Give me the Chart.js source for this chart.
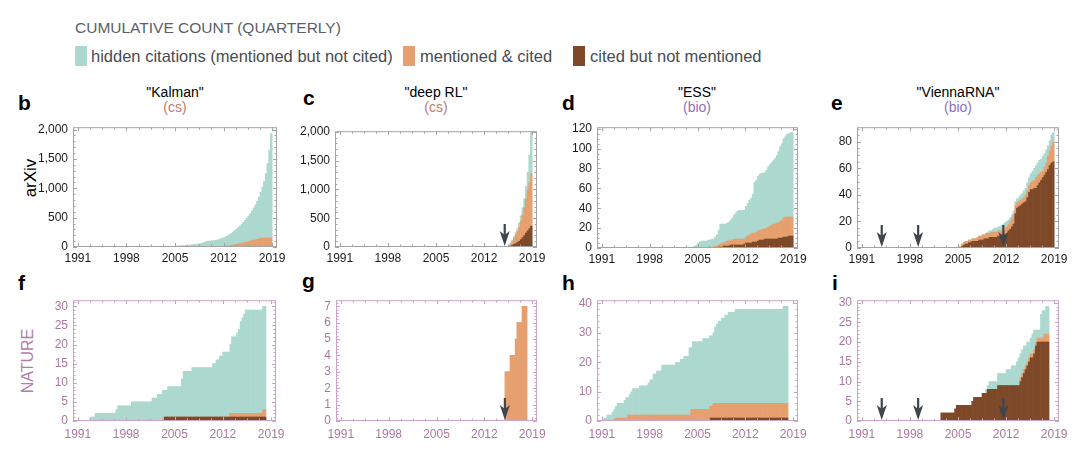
<!DOCTYPE html>
<html>
<head>
<meta charset="utf-8">
<script src="https://cdn.jsdelivr.net/npm/chart.js@4.4.1/dist/chart.umd.min.js"></script>
<style>
  body { margin: 0; background: #fff; width: 1080px; height: 461px; position: relative; overflow: hidden;
         font-family: "Liberation Sans", Arial, Helvetica, sans-serif; }
  .t { position: absolute; white-space: nowrap; line-height: 1; }
  .c { transform: translateX(-50%); }
  .r { transform: translate(-50%, -50%) rotate(-90deg); }
  .sw { position: absolute; width: 12px; height: 20px; }
  canvas { position: absolute; }
</style>
</head>
<body>

<div class="t" style="left:75px;top:20px;font-size:15.5px;color:#5b6066">CUMULATIVE COUNT (QUARTERLY)</div>
<div class="sw" style="left:75px;top:46px;background:#acd8cf"></div>
<div class="t" style="left:91px;top:48px;font-size:16.5px;color:#474c52">hidden citations (mentioned but not cited)</div>
<div class="sw" style="left:403px;top:46px;background:#e6a06f"></div>
<div class="t" style="left:420px;top:48px;font-size:16.5px;color:#474c52">mentioned &amp; cited</div>
<div class="sw" style="left:573px;top:46px;background:#7e4928"></div>
<div class="t" style="left:590px;top:48px;font-size:16.5px;color:#474c52">cited but not mentioned</div>

<div class="t" style="left:18px;top:92px;font-size:21px;font-weight:bold">b</div>
<div class="t" style="left:303px;top:87px;font-size:21px;font-weight:bold">c</div>
<div class="t" style="left:562px;top:92px;font-size:21px;font-weight:bold">d</div>
<div class="t" style="left:831px;top:92px;font-size:21px;font-weight:bold">e</div>
<div class="t" style="left:18px;top:272px;font-size:21px;font-weight:bold">f</div>
<div class="t" style="left:302px;top:270px;font-size:21px;font-weight:bold">g</div>
<div class="t" style="left:562px;top:272px;font-size:21px;font-weight:bold">h</div>
<div class="t" style="left:832px;top:272px;font-size:21px;font-weight:bold">i</div>

<div class="t c" style="left:175px;top:85px;font-size:14px">"Kalman"</div>
<div class="t c" style="left:175px;top:100px;font-size:14px;color:#c07a6e">(cs)</div>
<div class="t c" style="left:436px;top:85px;font-size:14px">"deep RL"</div>
<div class="t c" style="left:436px;top:100px;font-size:14px;color:#c07a6e">(cs)</div>
<div class="t c" style="left:697px;top:85px;font-size:14px">"ESS"</div>
<div class="t c" style="left:697px;top:100px;font-size:14px;color:#8e72bd">(bio)</div>
<div class="t c" style="left:958px;top:85px;font-size:14px">"ViennaRNA"</div>
<div class="t c" style="left:958px;top:100px;font-size:14px;color:#8e72bd">(bio)</div>

<div class="t r" style="left:30px;top:178px;font-size:17px">arXiv</div>
<div class="t r" style="left:28px;top:361px;font-size:16px;color:#b27dad">NATURE</div>

<canvas id="b"></canvas><canvas id="c"></canvas><canvas id="d"></canvas><canvas id="e"></canvas>
<canvas id="f"></canvas><canvas id="g"></canvas><canvas id="h"></canvas><canvas id="i"></canvas>

<script>
// cumulative counts per quarter; *From = [total, cited, citedOnly] first quarter (year + q/4)
// total = all papers, cited = mentioned & cited + cited only, citedOnly = cited but not mentioned
const yearTicks = [1991, 1998, 2005, 2012, 2019];

const kalmanArxivFrom = [2004, 2011, null];
const kalmanArxivTotal = [2, 4, 6, 10, 14, 17, 19, 21, 23, 25, 27, 29, 32, 35, 38, 42, 46, 50, 55, 62,
  70, 90, 97, 100, 102, 104, 108, 113, 120, 128, 138, 150, 162, 178, 195, 212, 232, 255, 280, 305,
  330, 358, 388, 420, 455, 492, 530, 570, 615, 665, 720, 780, 850, 930, 1020, 1120, 1250, 1420, 1650, 1930];
const kalmanArxivCited = [2, 4, 6, 8, 12, 16, 20, 25, 30, 35, 40, 46, 52, 58, 64, 70, 77, 84, 92, 100,
  108, 116, 124, 132, 140, 146, 150, 152, 152, 153, 153, 154];
const kalmanArxivCitedOnly = [];

const deepRlArxivFrom = [2015.25, 2015.25, 2015.25];
const deepRlArxivTotal = [5, 30, 70, 120, 180, 250, 320, 420, 540, 680, 840, 1050, 1300, 1600, 1990];
const deepRlArxivCited = [3, 22, 55, 100, 150, 210, 270, 350, 450, 560, 680, 830, 980, 1120, 1270];
const deepRlArxivCitedOnly = [1, 8, 18, 30, 45, 60, 75, 100, 130, 165, 200, 240, 280, 320, 365];

const essArxivFrom = [2004.25, 2007.25, 2008];
const essArxivTotal = [1, 2, 3, 5, 6, 7, 7, 7, 7, 8, 8, 9, 9, 11, 13, 18, 24, 24, 24, 24, 25, 26, 28,
  30, 33, 35, 37, 38, 38, 38, 38, 42, 45, 48, 50, 54, 66, 68, 72, 74, 75, 75, 76, 78, 82, 84, 86,
  88, 90, 93, 97, 102, 105, 110, 112, 114, 115, 116, 116];
const essArxivCited = [1, 2, 2, 3, 4, 5, 5, 6, 7, 7, 8, 8, 9, 9, 9, 9, 9, 9, 9, 11, 12, 13, 14,
  15, 15, 16, 17, 18, 18, 19, 19, 20, 21, 22, 23, 24, 24, 25, 25, 27, 28, 30, 31, 31, 31, 31, 31];
const essArxivCitedOnly = [1, 1, 1, 2, 2, 2, 2, 3, 3, 3, 3, 3, 3, 3, 3, 4, 5, 5, 5, 5, 6, 6, 6, 7,
  8, 8, 8, 9, 9, 9, 9, 9, 9, 9, 9, 10, 10, 10, 11, 11, 11, 12, 12, 12];

const viennaArxivFrom = [2005.25, 2005.25, 2005.25];
const viennaArxivTotal = [1, 3, 4, 5, 5, 6, 6, 7, 7, 7, 8, 9, 9, 10, 10, 11, 12, 13, 13, 14, 15, 15, 16,
  16, 17, 18, 19, 20, 21, 23, 25, 28, 35, 37, 38, 40, 41, 43, 45, 49, 53, 56, 58, 60, 62, 64, 66,
  67, 69, 71, 74, 77, 81, 85, 87];
const viennaArxivCited = [1, 3, 4, 5, 5, 6, 6, 7, 7, 7, 8, 9, 9, 10, 10, 11, 11, 11, 12, 12, 12, 12, 13,
  13, 13, 14, 15, 16, 18, 20, 22, 25, 32, 34, 35, 36, 37, 38, 40, 43, 47, 49, 50, 51, 53, 55, 56,
  57, 58, 61, 64, 69, 73, 77, 80];
const viennaArxivCitedOnly = [0, 1, 2, 3, 3, 4, 4, 5, 5, 5, 5, 6, 6, 6, 7, 7, 7, 8, 8, 8, 8, 8, 9,
  9, 9, 10, 10, 11, 13, 14, 16, 18, 26, 30, 31, 32, 33, 34, 35, 38, 42, 44, 44, 45, 45, 47, 49,
  51, 53, 55, 57, 59, 62, 64, 65];

const kalmanNatureFrom = [1992.75, 2003.5, 2003.5];
const kalmanNatureTotal = [1, 1, 1, 2, 2, 2, 2, 2, 2, 2, 2, 2, 2, 2, 2, 3, 4, 4, 4, 4, 4, 4, 4, 4, 5,
  5, 5, 5, 5, 5, 5, 5, 5, 5, 5, 5, 6, 6, 6, 7, 7, 7, 8, 8, 8, 9, 9, 9, 9, 9, 9, 9, 9,
  11, 13, 13, 13, 13, 13, 14, 14, 14, 14, 14, 14, 14, 14, 14, 14, 14, 14, 15, 15, 16, 16, 17, 17,
  18, 18, 18, 18, 20, 22, 22, 22, 23, 24, 26, 27, 28, 29, 29, 29, 29, 29, 29, 29, 29, 29, 29, 30, 30];
const kalmanNatureCited = [1, 1, 1, 1, 1, 1, 1, 1, 1, 1, 1, 1, 1, 1, 1, 1, 1, 1, 1, 1, 1, 1, 1, 1, 1, 1,
  1, 1, 1, 1, 1, 1, 1, 1, 1, 1, 1, 1, 2, 2, 2, 2, 2, 2, 2, 2, 2, 2, 2, 2, 2, 2, 2, 2, 2, 2, 2, 3, 3];
const kalmanNatureCitedOnly = [1, 1, 1, 1, 1, 1, 1, 1, 1, 1, 1, 1, 1, 1, 1, 1, 1, 1, 1, 1, 1, 1, 1, 1, 1, 1,
  1, 1, 1, 1, 1, 1, 1, 1, 1, 1, 1, 1, 1, 1, 1, 1, 1, 1, 1, 1, 1, 1, 1, 1, 1, 1, 1, 1, 1, 1, 1, 1, 1];

const deepRlNatureFrom = [2015, 2015, null];
const deepRlNatureTotal = [3, 3, 3, 4, 4, 4, 5, 6, 6, 6, 7, 7, 7];
const deepRlNatureCited = [3, 3, 3, 4, 4, 4, 5, 6, 6, 6, 7, 7, 7];
const deepRlNatureCitedOnly = [];

const essNatureFrom = [1991.25, 1993, 2006.75];
const essNatureTotal = [1, 1, 2, 2, 2, 3, 4, 5, 6, 6, 6, 6, 7, 8, 8, 9, 10, 11, 11, 11, 11, 12, 12,
  12, 12, 12, 13, 14, 14, 16, 16, 17, 17, 17, 19, 19, 19, 19, 19, 19, 19, 19, 20, 20, 20, 21, 21,
  22, 22, 22, 25, 25, 27, 27, 27, 27, 27, 27, 28, 28, 28, 28, 29, 29, 30, 32, 33, 34, 34, 35, 35,
  36, 36, 37, 37, 37, 37, 38, 38, 38, 38, 38, 38, 38, 38, 38, 38, 38, 38, 38, 38, 38, 38, 38, 38,
  38, 38, 38, 38, 38, 38, 38, 38, 38, 38, 39, 39, 39];
const essNatureCited = [1, 1, 1, 1, 1, 1, 1, 2, 2, 2, 2, 2, 2, 2, 2, 2, 2, 2, 2, 2, 2, 2, 2, 2, 2, 2,
  2, 2, 2, 2, 2, 2, 2, 2, 2, 2, 2, 2, 2, 2, 2, 2, 2, 2, 4, 4, 4, 4, 4, 4, 4, 4, 4, 4, 4, 5,
  5, 6, 6, 6, 6, 6, 6, 6, 6, 6, 6, 6, 6, 6, 6, 6, 6, 6, 6, 6, 6, 6, 6, 6, 6, 6, 6, 6, 6, 6,
  6, 6, 6, 6, 6, 6, 6, 6, 6, 6, 6, 6, 6, 6, 6];
const essNatureCitedOnly = [1, 1, 1, 1, 1, 1, 1, 1, 1, 1, 1, 1, 1, 1, 1, 1, 1, 1, 1, 1, 1, 1, 1,
  1, 1, 1, 1, 1, 1, 1, 1, 1, 1, 1, 1, 1, 1, 1, 1, 1, 1, 1, 1, 1, 1, 1];

const viennaNatureFrom = [2002.5, 2002.5, 2002.5];
const viennaNatureTotal = [2, 2, 2, 2, 2, 2, 2, 2, 3, 4, 4, 4, 4, 4, 4, 4, 4, 4, 5, 6, 6, 6, 6, 6, 7, 7,
  8, 9, 10, 10, 10, 10, 10, 12, 12, 12, 12, 12, 13, 13, 13, 14, 14, 14, 15, 16, 17, 18, 19, 19,
  20, 20, 21, 22, 23, 23, 23, 23, 27, 28, 28, 29, 29];
const viennaNatureCited = [2, 2, 2, 2, 2, 2, 2, 2, 3, 4, 4, 4, 4, 4, 4, 4, 4, 4, 5, 6, 6, 6, 6, 6, 7, 7,
  7, 8, 8, 8, 8, 8, 8, 9, 9, 9, 9, 9, 9, 9, 9, 9, 9, 9, 9, 9, 11, 12, 13, 14,
  15, 16, 17, 17, 18, 20, 21, 21, 21, 21, 22, 22, 22];
const viennaNatureCitedOnly = [2, 2, 2, 2, 2, 2, 2, 2, 3, 4, 4, 4, 4, 4, 4, 4, 4, 4, 5, 6, 6, 6, 6, 6, 7, 7,
  7, 8, 8, 8, 8, 8, 8, 9, 9, 9, 9, 9, 9, 9, 9, 9, 9, 9, 9, 9, 10, 11, 12, 13,
  14, 15, 16, 16, 17, 19, 20, 20, 20, 20, 20, 20, 20];

const cslYTicks = [0, 500, 1000, 1500, 2000];
const essArxivYTicks = [0, 20, 40, 60, 80, 100, 120];
const viennaArxivYTicks = [0, 20, 40, 60, 80];
const kalmanNatureYTicks = [0, 5, 10, 15, 20, 25, 30];
const deepRlNatureYTicks = [0, 1, 2, 3, 4, 5, 6, 7];
const essNatureYTicks = [0, 10, 20, 30, 40];
const viennaNatureYTicks = [0, 5, 10, 15, 20, 25, 30];

const arrowsDeepRl = [2015.0];
const arrowsVienna = [1993.9, 1999.2, 2011.6];

const TEAL = '#acd8cf', ORANGE = '#e6a06f', BROWN = '#7e4928';
const AXIS_W = 50, AXIS_H = 22, PAD_T = 8, PAD_R = 20;

Chart.defaults.font.family = "'Liberation Sans', Arial, Helvetica, sans-serif";
Chart.defaults.font.size = 12;

const framePlugin = {
  id: 'frame',
  afterDatasetsDraw(chart, args, opts) {
    const { ctx, chartArea: a, scales: { x, y } } = chart;
    ctx.save();
    // arrows
    ctx.fillStyle = '#3f454b';
    ctx.strokeStyle = '#3f454b';
    opts.arrows.forEach(yr => {
      const px = x.getPixelForValue(yr);
      const tip = y.getPixelForValue(0) - 1;
      ctx.lineWidth = 2.2;
      ctx.beginPath();
      ctx.moveTo(px, tip - 22);
      ctx.lineTo(px, tip - 10);
      ctx.stroke();
      ctx.beginPath();
      ctx.moveTo(px, tip);
      ctx.lineTo(px - 5, tip - 15);
      ctx.lineTo(px, tip - 11);
      ctx.lineTo(px + 5, tip - 15);
      ctx.closePath();
      ctx.fill();
    });
    // frame
    ctx.strokeStyle = opts.color;
    ctx.lineWidth = 1;
    ctx.strokeRect(a.left + 0.5, a.top + 0.5, a.width - 1, a.height - 1);
    ctx.beginPath();
    const xt = (v, len) => {
      const px = Math.round(x.getPixelForValue(v)) + 0.5;
      ctx.moveTo(px, a.bottom); ctx.lineTo(px, a.bottom - len);
      ctx.moveTo(px, a.top); ctx.lineTo(px, a.top + len);
    };
    const yt = (v, len) => {
      const py = Math.round(y.getPixelForValue(v)) + 0.5;
      ctx.moveTo(a.left, py); ctx.lineTo(a.left + len, py);
      ctx.moveTo(a.right, py); ctx.lineTo(a.right - len, py);
    };
    yearTicks.forEach(v => xt(v, 4));
    for (let v = 1991; v < 2019.01; v += 1.75) if (!yearTicks.includes(v)) xt(v, 2.5);
    opts.yTicks.forEach(v => yt(v, 4));
    for (let v = opts.yMinor; v < y.max; v += opts.yMinor) {
      if (!opts.yTicks.some(t => Math.abs(t - v) < 1e-6)) yt(v, 2.5);
    }
    ctx.stroke();
    ctx.restore();
  }
};

function valueAt(from, arr, q) {
  if (from === null) return 0;
  const i = Math.round((q - from) * 4);
  return i >= 0 && i < arr.length ? arr[i] : 0;
}

function makePanel(p) {
  const [fTotal, fCited, fOnly] = p.from;
  const hidden = [], mentioned = [], citedOnly = [];
  for (let k = 0; k < p.total.length; k++) {
    const q = fTotal + k * 0.25;
    const tot = valueAt(fTotal, p.total, q);
    const cit = valueAt(fCited, p.cited, q);
    const only = valueAt(fOnly, p.citedOnly, q);
    const xq = q + 0.125;
    citedOnly.push({ x: xq, y: only });
    mentioned.push({ x: xq, y: cit - only });
    hidden.push({ x: xq, y: tot - cit });
  }

  const canvas = document.getElementById(p.id);
  canvas.width = AXIS_W + p.w + PAD_R;
  canvas.height = PAD_T + p.h + AXIS_H;
  canvas.style.left = (p.left - AXIS_W) + 'px';
  canvas.style.top = (p.top - PAD_T) + 'px';

  const labelColor = p.nature ? '#a9789f' : '#1a1a1a';
  new Chart(canvas, {
    type: 'bar',
    data: {
      datasets: [
        { label: 'cited but not mentioned', data: citedOnly, backgroundColor: BROWN },
        { label: 'mentioned & cited', data: mentioned, backgroundColor: ORANGE },
        { label: 'hidden citations (mentioned but not cited)', data: hidden, backgroundColor: TEAL }
      ]
    },
    options: {
      responsive: false,
      animation: false,
      events: [],
      layout: { padding: { left: 0, top: PAD_T, right: PAD_R, bottom: 0 } },
      datasets: { bar: { barPercentage: 1, categoryPercentage: 1, borderWidth: 0 } },
      plugins: {
        legend: { display: false },
        tooltip: { enabled: false },
        frame: { color: p.nature ? '#caa3c7' : '#a3a3a3', arrows: p.arrows, yTicks: p.yTicks, yMinor: p.yMinor }
      },
      scales: {
        x: {
          type: 'linear', min: 1990.3, max: 2019.7, offset: false, stacked: true,
          grid: { display: false, drawTicks: false }, border: { display: false },
          afterBuildTicks: s => { s.ticks = yearTicks.map(v => ({ value: v })); },
          afterFit: s => { s.height = AXIS_H; },
          ticks: { autoSkip: false, maxRotation: 0, padding: p.nature ? 6 : 4, color: labelColor,
                   callback: v => String(v) }
        },
        y: {
          type: 'linear', min: 0, max: p.yMax, stacked: true,
          grid: { display: false, drawTicks: false }, border: { display: false },
          afterBuildTicks: s => { s.ticks = p.yTicks.map(v => ({ value: v })); },
          afterFit: s => { s.width = AXIS_W; },
          ticks: { autoSkip: false, padding: 5, color: labelColor,
                   callback: v => v.toLocaleString('en-US') }
        }
      }
    },
    plugins: [framePlugin]
  });
}

makePanel({ id: 'b', left: 73, top: 123, w: 204, h: 124, yMax: 2040, yTicks: cslYTicks, yMinor: 100, arrows: [],
  from: kalmanArxivFrom, total: kalmanArxivTotal, cited: kalmanArxivCited, citedOnly: kalmanArxivCitedOnly });
makePanel({ id: 'c', left: 335, top: 127, w: 202, h: 120, yMax: 2010, yTicks: cslYTicks, yMinor: 100, arrows: arrowsDeepRl,
  from: deepRlArxivFrom, total: deepRlArxivTotal, cited: deepRlArxivCited, citedOnly: deepRlArxivCitedOnly });
makePanel({ id: 'd', left: 597, top: 123, w: 201, h: 125, yMax: 121.5, yTicks: essArxivYTicks, yMinor: 5, arrows: [],
  from: essArxivFrom, total: essArxivTotal, cited: essArxivCited, citedOnly: essArxivCitedOnly });
makePanel({ id: 'e', left: 857, top: 123, w: 202, h: 125, yMax: 91, yTicks: viennaArxivYTicks, yMinor: 5, arrows: arrowsVienna,
  from: viennaArxivFrom, total: viennaArxivTotal, cited: viennaArxivCited, citedOnly: viennaArxivCitedOnly });
makePanel({ id: 'f', left: 73, top: 296, w: 203, h: 125, yMax: 31.6, yTicks: kalmanNatureYTicks, yMinor: 1, arrows: [], nature: true,
  from: kalmanNatureFrom, total: kalmanNatureTotal, cited: kalmanNatureCited, citedOnly: kalmanNatureCitedOnly });
makePanel({ id: 'g', left: 336, top: 296, w: 201, h: 125, yMax: 7.37, yTicks: deepRlNatureYTicks, yMinor: 0.2, arrows: arrowsDeepRl, nature: true,
  from: deepRlNatureFrom, total: deepRlNatureTotal, cited: deepRlNatureCited, citedOnly: deepRlNatureCitedOnly });
makePanel({ id: 'h', left: 597, top: 296, w: 201, h: 125, yMax: 41.1, yTicks: essNatureYTicks, yMinor: 2, arrows: [], nature: true,
  from: essNatureFrom, total: essNatureTotal, cited: essNatureCited, citedOnly: essNatureCitedOnly });
makePanel({ id: 'i', left: 857, top: 296, w: 202, h: 125, yMax: 30.6, yTicks: viennaNatureYTicks, yMinor: 1, arrows: arrowsVienna, nature: true,
  from: viennaNatureFrom, total: viennaNatureTotal, cited: viennaNatureCited, citedOnly: viennaNatureCitedOnly });
</script>
</body>
</html>
